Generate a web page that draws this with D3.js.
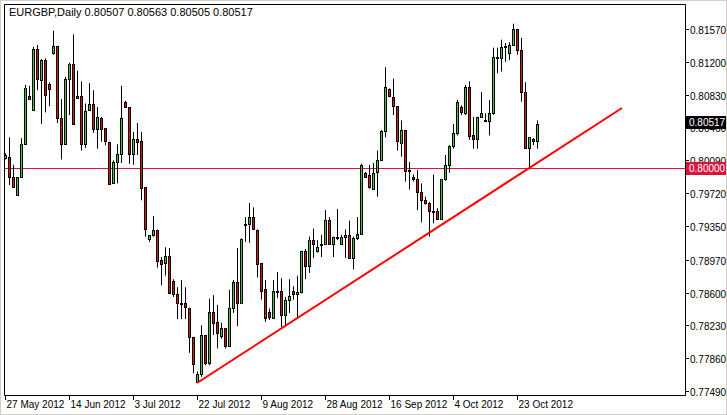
<!DOCTYPE html>
<html>
<head>
<meta charset="utf-8">
<script src="https://cdn.jsdelivr.net/npm/d3@7"></script>
<style>
  body { margin: 0; background: #fff; }
  text { font-family: "Liberation Sans", Arial, sans-serif; font-size: 10px; }
  text.title { font-size: 11px; }
</style>
</head>
<body>
<svg id="chart" width="727" height="415"></svg>
<script>
// daily OHLC, EURGBP, one bar per trading day
const opens = [
  0.8012,0.8013,0.7990,0.7970,0.7990,0.8027,0.8081,0.8065,0.8134,0.8100,
  0.8122,0.8095,0.8130,0.8138,0.8057,0.8028,0.8101,0.8118,0.8080,0.8082,
  0.8028,0.8065,0.8072,0.8044,0.8057,0.8045,0.8030,0.7983,0.8007,0.8016,
  0.8075,0.8069,0.8016,0.8033,0.8031,0.7979,0.7920,0.7925,0.7931,0.7897,
  0.7893,0.7901,0.7873,0.7858,0.7848,0.7848,0.7843,0.7810,0.7759,0.7768,
  0.7812,0.7781,0.7838,0.7827,0.7811,0.7820,0.7800,0.7843,0.7872,0.7848,
  0.7937,0.7937,0.7945,0.7931,0.7893,0.7864,0.7838,0.7832,0.7862,0.7862,
  0.7835,0.7852,0.7862,0.7859,0.7861,0.7907,0.7890,0.7919,0.7906,0.7914,
  0.7915,0.7942,0.7915,0.7923,0.7915,0.7923,0.7925,0.7899,0.7921,0.7926,
  0.7995,0.7993,0.7977,0.7995,0.8009,0.8042,0.8089,0.8080,0.8070,0.8028,
  0.8043,0.7998,0.7990,0.7988,0.7973,0.7964,0.7961,0.7952,0.7952,0.7943,
  0.7988,0.8004,0.8025,0.8040,0.8069,0.8063,0.8092,0.8037,0.8033,0.8058,
  0.8054,0.8053,0.8062,0.8125,0.8125,0.8138,0.8130,0.8139,0.8157,0.8133,
  0.8086,0.8023,0.8033,0.8031
];
const highs = [
  0.8017,0.8035,0.8004,0.7990,0.8034,0.8094,0.8093,0.8137,0.8139,0.8123,
  0.8124,0.8097,0.8155,0.8138,0.8078,0.8103,0.8119,0.8151,0.8110,0.8098,
  0.8073,0.8096,0.8088,0.8069,0.8058,0.8045,0.8030,0.8009,0.8027,0.8093,
  0.8076,0.8069,0.8041,0.8051,0.8041,0.7979,0.7923,0.7946,0.7931,0.7900,
  0.7911,0.7910,0.7875,0.7866,0.7874,0.7866,0.7843,0.7810,0.7771,0.7823,
  0.7812,0.7853,0.7857,0.7846,0.7826,0.7820,0.7863,0.7874,0.7910,0.7921,
  0.7945,0.7961,0.7956,0.7931,0.7893,0.7874,0.7842,0.7874,0.7883,0.7876,
  0.7855,0.7875,0.7867,0.7879,0.7907,0.7909,0.7923,0.7932,0.7919,0.7925,
  0.7953,0.7945,0.7923,0.7954,0.7925,0.7931,0.7941,0.7923,0.7945,0.8005,
  0.7996,0.8004,0.8006,0.8020,0.8043,0.8114,0.8090,0.8101,0.8070,0.8054,
  0.8043,0.8007,0.7993,0.7998,0.7983,0.7968,0.7962,0.7993,0.7955,0.7988,
  0.8015,0.8026,0.8050,0.8077,0.8071,0.8094,0.8098,0.8058,0.8058,0.8086,
  0.8062,0.8077,0.8136,0.8136,0.8145,0.8141,0.8142,0.8163,0.8157,0.8147,
  0.8097,0.8035,0.8034,0.8054
];
const lows = [
  0.8010,0.7981,0.7979,0.7970,0.7990,0.8027,0.8078,0.8065,0.8088,0.8050,
  0.8063,0.8070,0.8128,0.8051,0.8010,0.8028,0.8060,0.8050,0.8080,0.8020,
  0.8023,0.8065,0.8040,0.8022,0.8030,0.8026,0.7982,0.7983,0.7983,0.8006,
  0.8068,0.8005,0.8004,0.8015,0.7964,0.7923,0.7917,0.7923,0.7888,0.7868,
  0.7879,0.7858,0.7855,0.7830,0.7830,0.7830,0.7792,0.7769,0.7758,0.7765,
  0.7778,0.7778,0.7812,0.7797,0.7808,0.7797,0.7799,0.7837,0.7822,0.7847,
  0.7917,0.7916,0.7932,0.7877,0.7852,0.7827,0.7829,0.7831,0.7854,0.7821,
  0.7821,0.7837,0.7852,0.7831,0.7859,0.7875,0.7882,0.7899,0.7905,0.7900,
  0.7914,0.7914,0.7900,0.7919,0.7914,0.7899,0.7899,0.7886,0.7919,0.7925,
  0.7990,0.7977,0.7977,0.7968,0.8009,0.8035,0.8080,0.8060,0.8020,0.8013,
  0.7985,0.7976,0.7985,0.7953,0.7939,0.7959,0.7923,0.7938,0.7942,0.7942,
  0.7986,0.7995,0.8022,0.8037,0.8060,0.8060,0.8032,0.8022,0.8022,0.8057,
  0.8052,0.8037,0.8060,0.8107,0.8109,0.8120,0.8122,0.8138,0.8128,0.8075,
  0.8022,0.8000,0.8026,0.8022
];
const closes = [
  0.8015,0.7990,0.7979,0.7990,0.8027,0.8090,0.8078,0.8134,0.8100,0.8122,
  0.8083,0.8089,0.8138,0.8057,0.8028,0.8101,0.8118,0.8050,0.8082,0.8028,
  0.8065,0.8072,0.8044,0.8058,0.8045,0.8030,0.7983,0.8007,0.8016,0.8057,
  0.8069,0.8016,0.8033,0.8030,0.7978,0.7932,0.7925,0.7931,0.7896,0.7893,
  0.7901,0.7859,0.7858,0.7848,0.7847,0.7843,0.7810,0.7780,0.7768,0.7812,
  0.7781,0.7838,0.7826,0.7815,0.7820,0.7800,0.7843,0.7872,0.7848,0.7920,
  0.7937,0.7945,0.7932,0.7893,0.7862,0.7831,0.7832,0.7862,0.7861,0.7835,
  0.7852,0.7856,0.7859,0.7861,0.7907,0.7890,0.7919,0.7914,0.7911,0.7915,
  0.7942,0.7915,0.7923,0.7923,0.7923,0.7925,0.7899,0.7921,0.7926,0.8004,
  0.7991,0.7979,0.7995,0.8009,0.8042,0.8092,0.8081,0.8070,0.8030,0.8043,
  0.7997,0.7997,0.7988,0.7973,0.7964,0.7961,0.7952,0.7952,0.7943,0.7988,
  0.8004,0.8025,0.8040,0.8075,0.8063,0.8092,0.8037,0.8033,0.8058,0.8062,
  0.8053,0.8062,0.8125,0.8125,0.8137,0.8138,0.8139,0.8157,0.8133,0.8086,
  0.8023,0.8035,0.8031,0.8050
];
const dateLabels = ["27 May 2012","14 Jun 2012","3 Jul 2012","22 Jul 2012","9 Aug 2012",
  "28 Aug 2012","16 Sep 2012","4 Oct 2012","23 Oct 2012"];
const labelEvery = 16;
const priceTicks = [0.81570,0.81200,0.80830,0.80460,0.80090,0.79720,0.79350,0.78970,0.78600,0.78230,0.77860,0.77490];
const title = "EURGBP,Daily  0.80507 0.80563 0.80505 0.80517";
const lastPrice = 0.80517;
const levelPrice = 0.80000;
// trend line: from the July low to its projected end
const trendIdx = [48, 154.25];
const trendPrice = [0.7758, 0.8068];

const svg = d3.select("#chart");
const pLeft = 4, pRight = 685, pTop = 4, pBottom = 395;

const x = d3.scaleLinear().domain([0, 170]).range([5, 685]);
const y = d3.scaleLinear().domain([0.77490, 0.81570]).range([391, 29]);

// window edge
svg.append("rect").attr("x", 0.5).attr("y", 0.5).attr("width", 726).attr("height", 414)
  .attr("fill", "none").attr("stroke", "#d4d0c8");

// level line
svg.append("line").attr("x1", pLeft).attr("x2", pRight)
  .attr("y1", Math.round(y(levelPrice)) + 0.5).attr("y2", Math.round(y(levelPrice)) + 0.5)
  .attr("stroke", "#dc143c").attr("stroke-width", 1);

// candles
const bars = d3.range(opens.length).map(i => ({ i, o: opens[i], h: highs[i], l: lows[i], c: closes[i] }));
const g = svg.append("g");
g.selectAll("line.wick").data(bars).join("line")
  .attr("x1", d => Math.round(x(d.i)) + 0.5).attr("x2", d => Math.round(x(d.i)) + 0.5)
  .attr("y1", d => y(d.h)).attr("y2", d => y(d.l))
  .attr("stroke", "#000").attr("stroke-width", 1);
g.selectAll("rect.body").data(bars).join("rect")
  .attr("x", d => Math.round(x(d.i)) - 0.5)
  .attr("y", d => Math.round(y(Math.max(d.o, d.c))) + 0.5)
  .attr("width", 2)
  .attr("height", d => Math.max(1, Math.round(Math.abs(y(d.o) - y(d.c)))))
  .attr("fill", d => d.c >= d.o ? "#33cc33" : "#dd1111")
  .attr("stroke", "#000").attr("stroke-width", 1);

// trend line
svg.append("line")
  .attr("x1", x(trendIdx[0])).attr("y1", y(trendPrice[0]))
  .attr("x2", x(trendIdx[1])).attr("y2", y(trendPrice[1]))
  .attr("stroke", "#ff0000").attr("stroke-width", 2);

// frame
svg.append("path")
  .attr("d", `M${pLeft + 0.5},${pBottom + 0.5}V${pTop + 0.5}H${pRight + 0.5}V${pBottom + 0.5}H${pLeft + 0.5}`)
  .attr("fill", "none").attr("stroke", "#000");

// price axis
priceTicks.forEach(p => {
  const py = Math.round(y(p)) + 0.5;
  svg.append("line").attr("x1", pRight).attr("x2", pRight + 4).attr("y1", py).attr("y2", py).attr("stroke", "#000");
  svg.append("text").attr("x", 690).attr("y", py + 4).text(p.toFixed(5));
});

// price boxes
function priceBox(p, bg) {
  const py = Math.round(y(p));
  svg.append("rect").attr("x", 686).attr("y", py - 6).attr("width", 40).attr("height", 13).attr("fill", bg);
  svg.append("text").attr("x", 689).attr("y", py + 4).attr("fill", "#fff").text(p.toFixed(5));
}
priceBox(lastPrice, "#000");
priceBox(levelPrice, "#dc143c");

// date axis
dateLabels.forEach((lab, k) => {
  const px = Math.round(x(k * labelEvery)) + 0.5;
  svg.append("line").attr("x1", px).attr("x2", px).attr("y1", pBottom).attr("y2", pBottom + 5).attr("stroke", "#000");
  svg.append("text").attr("x", px + 1).attr("y", 408).text(lab);
});

svg.append("text").attr("class", "title").attr("x", 9).attr("y", 16).text(title);
</script>
</body>
</html>
